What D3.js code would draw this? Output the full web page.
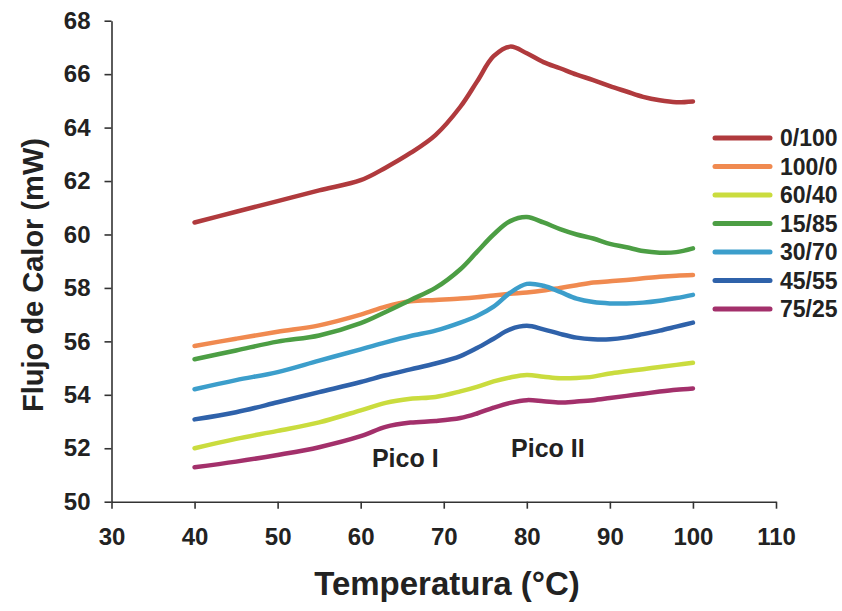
<!DOCTYPE html>
<html>
<head>
<meta charset="utf-8">
<script src="https://cdn.jsdelivr.net/npm/d3@7"></script>
<style>
  html, body { margin: 0; padding: 0; background: #fff; }
  svg { display: block; font-family: "Liberation Sans", Arial, sans-serif; }
</style>
</head>
<body>
<svg id="chart" width="842" height="611"></svg>
<script>
// ---- data ----
const temps = [40, 45, 50, 55, 60, 63, 66, 69, 72, 74, 76, 78, 80, 82, 84, 86, 88, 90, 92, 94, 96, 98, 100];
const s0_100  = [60.45, 60.85, 61.25, 61.65, 62.03, 62.5, 63.05, 63.72, 64.78, 65.72, 66.67, 67.03, 66.78, 66.45, 66.22, 65.98, 65.78, 65.55, 65.35, 65.15, 65.02, 64.95, 64.98];
const s100_0  = [55.83, 56.1, 56.36, 56.6, 57.0, 57.3, 57.5, 57.55, 57.6, 57.65, 57.72, 57.78, 57.83, 57.9, 58.0, 58.1, 58.2, 58.25, 58.3, 58.36, 58.42, 58.46, 58.48];
const s60_40  = [52.0, 52.35, 52.65, 52.97, 53.42, 53.7, 53.85, 53.92, 54.13, 54.3, 54.5, 54.65, 54.74, 54.68, 54.62, 54.63, 54.68, 54.8, 54.88, 54.96, 55.04, 55.12, 55.2];
const s15_85  = [55.33, 55.66, 55.99, 56.22, 56.68, 57.1, 57.55, 58.0, 58.7, 59.35, 60.0, 60.5, 60.65, 60.45, 60.2, 60.0, 59.85, 59.65, 59.52, 59.38, 59.32, 59.34, 59.48];
const s30_70  = [54.21, 54.55, 54.85, 55.28, 55.7, 55.96, 56.2, 56.4, 56.7, 56.95, 57.3, 57.82, 58.15, 58.08, 57.85, 57.6, 57.47, 57.42, 57.42, 57.45, 57.52, 57.62, 57.74];
const s45_55  = [53.08, 53.35, 53.72, 54.1, 54.48, 54.73, 54.95, 55.17, 55.45, 55.75, 56.1, 56.45, 56.58, 56.45, 56.28, 56.14, 56.08, 56.08, 56.15, 56.27, 56.4, 56.55, 56.7];
const s75_25  = [51.29, 51.5, 51.75, 52.04, 52.45, 52.8, 52.96, 53.02, 53.13, 53.3, 53.52, 53.7, 53.8, 53.76, 53.71, 53.75, 53.8, 53.88, 53.96, 54.04, 54.12, 54.19, 54.24];

const seriesNames = ["0/100", "100/0", "60/40", "15/85", "30/70", "45/55", "75/25"];
const seriesValues = [s0_100, s100_0, s60_40, s15_85, s30_70, s45_55, s75_25];
const seriesColors = ["#b03a3d", "#f08a50", "#cadc3e", "#4c9e44", "#3c9ecb", "#2f62aa", "#a3306b"];

const xTicks = [30, 40, 50, 60, 70, 80, 90, 100, 110];
const yTicks = [50, 52, 54, 56, 58, 60, 62, 64, 66, 68];
const xTitle = "Temperatura (°C)";
const yTitle = "Flujo de Calor (mW)";
const annotations = [{text: "Pico I", t: 61.35, v: 51.3}, {text: "Pico II", t: 78.1, v: 51.68}];

// ---- layout ----
const svg = d3.select("#chart");
const x = d3.scaleLinear().domain([30, 110]).range([111.5, 776]);
const y = d3.scaleLinear().domain([50, 68]).range([501.7, 20.7]);
const textColor = "#222";

// axes
const xAxis = svg.append("g")
  .attr("transform", `translate(0,${y(50)})`)
  .call(d3.axisBottom(x).tickValues(xTicks).tickSize(7).tickSizeOuter(0).tickPadding(19));
const yAxis = svg.append("g")
  .attr("transform", `translate(${x(30)},0)`)
  .call(d3.axisLeft(y).tickValues(yTicks).tickSize(7).tickSizeOuter(0).tickPadding(14));

[xAxis, yAxis].forEach(g => {
  g.select(".domain").attr("stroke", "#333").attr("stroke-width", 1.6);
  g.selectAll(".tick line").attr("stroke", "#333").attr("stroke-width", 1.6);
  g.selectAll(".tick text")
    .attr("fill", textColor)
    .style("font-size", "24px")
    .style("font-weight", "bold");
});

// lines
const line = d3.line()
  .x((d, i) => x(temps[i]))
  .y(d => y(d))
  .curve(d3.curveCatmullRom.alpha(0.5));

svg.append("g").selectAll("path")
  .data(seriesValues)
  .join("path")
  .attr("d", d => line(d))
  .attr("fill", "none")
  .attr("stroke", (d, i) => seriesColors[i])
  .attr("stroke-width", 4.5)
  .attr("stroke-linecap", "round")
  .attr("stroke-linejoin", "round");

// axis titles
svg.append("text")
  .attr("x", 447).attr("y", 595)
  .attr("text-anchor", "middle")
  .attr("fill", textColor)
  .style("font-size", "33px").style("font-weight", "bold")
  .text(xTitle);

svg.append("text")
  .attr("transform", "translate(43,275) rotate(-90)")
  .attr("text-anchor", "middle")
  .attr("fill", textColor)
  .style("font-size", "29px").style("font-weight", "bold")
  .text(yTitle);

// annotations
svg.append("g").selectAll("text")
  .data(annotations)
  .join("text")
  .attr("x", d => x(d.t))
  .attr("y", d => y(d.v))
  .attr("fill", textColor)
  .style("font-size", "25px").style("font-weight", "bold")
  .text(d => d.text);

// legend
const legend = svg.append("g").attr("transform", "translate(715,138)");
const rows = legend.selectAll("g")
  .data(seriesNames)
  .join("g")
  .attr("transform", (d, i) => `translate(0,${i * 28.5})`);
rows.append("line")
  .attr("x1", 0).attr("x2", 55)
  .attr("y1", 0).attr("y2", 0)
  .attr("stroke", (d, i) => seriesColors[i])
  .attr("stroke-width", 5)
  .attr("stroke-linecap", "round");
rows.append("text")
  .attr("x", 65).attr("y", 0)
  .attr("dy", "0.36em")
  .attr("fill", textColor)
  .style("font-size", "23px").style("font-weight", "bold")
  .text(d => d);
</script>
</body>
</html>
